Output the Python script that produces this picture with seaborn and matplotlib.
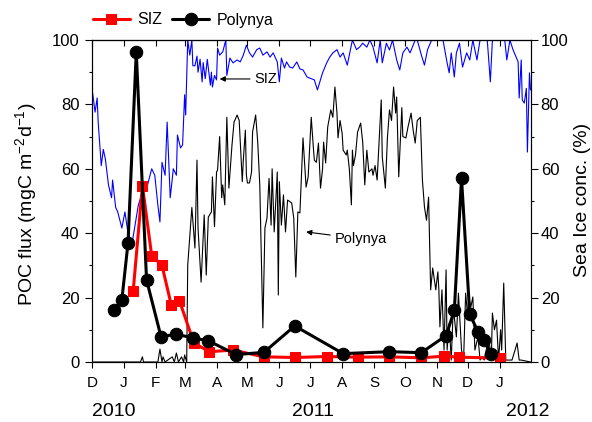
import matplotlib
matplotlib.use('Agg')
import numpy as np
import pandas as pd
import seaborn as sns
import matplotlib.pyplot as plt
import matplotlib.dates as mdates
from matplotlib.ticker import MultipleLocator, FuncFormatter

# ---------------- data (days since 2010-12-01) ----------------
siz_flux_day = [40, 49, 58, 68, 77, 85, 99, 114, 137, 167, 197, 228, 258, 289, 320, 342, 357, 396]
siz_flux = [22.0, 54.7, 33, 30, 17.7, 19, 5.9, 3.2, 3.7, 1.6, 1.4, 1.7, 1.5, 1.6, 1.3, 1.8, 1.5, 1.2]

poly_flux_day = [21, 29, 35, 43, 53, 67, 82, 98, 113, 140, 167, 197, 244, 289, 320, 344, 352, 359,
                 367, 375, 381, 388]
poly_flux = [16, 19.3, 37, 96.3, 25.5, 7.9, 8.6, 7.5, 6.6, 2.3, 3.0, 11.2, 2.6, 3.2, 2.9, 8.2, 16, 57,
             14.8, 9.4, 6.8, 2.4]

siz_ice_day = [0, 3, 5, 6, 9, 11, 13, 16, 19, 20,
               23, 25, 29, 32, 35, 39, 45, 49, 51, 54,
               58, 61, 64, 66, 68, 71, 73, 76, 79, 82,
               83, 86, 88, 90, 91, 93, 95, 97, 98, 100,
               102, 103, 105, 107, 108, 110, 112, 115, 116, 117,
               119, 121, 122, 124, 127, 130, 131, 134, 137, 141,
               144, 147, 150, 153, 156, 160, 163, 166, 170, 173,
               176, 180, 182, 184, 187, 189, 192, 195, 199, 202,
               205, 209, 216, 219, 224, 228, 231, 234, 238, 241,
               244, 248, 250, 253, 257, 260, 263, 267, 270, 273,
               277, 280, 282, 286, 289, 292, 296, 299, 302, 306,
               309, 314, 316, 320, 323, 326, 330, 335, 341, 345,
               347, 349, 352, 354, 357, 360, 364, 367, 370, 374,
               377, 381, 384, 387, 389, 396, 401, 403, 406, 409,
               414, 415, 417, 418, 420, 422, 423, 425, 426]
siz_ice = [85, 77.6, 82, 74.5, 61, 66, 63, 55, 51, 56.5,
           48, 46.6, 41.6, 46.6, 40, 37, 48.7, 52.8, 54, 55,
           60, 58, 48.7, 43.5, 62, 58, 74.5, 51, 60, 58,
           70.5, 66.5, 67.4, 83, 76.7, 100, 95.3, 100, 92, 92,
           95, 90, 94, 87, 93, 88, 94, 86, 90, 85.4,
           89, 87.6, 97.5, 95.3, 96.3, 100, 89, 94.4, 92.9, 93.8,
           93.2, 95.3, 98.4, 96, 94.7, 97, 97.5, 95.3, 96.3, 94.7,
           96, 93.2, 87, 94.4, 91.3, 93.2, 91.6, 91.3, 93.2, 91,
           90.7, 88.5, 87.6, 84.5, 89.8, 92.9, 94.7, 96, 97, 94.7,
           96, 92.2, 95.3, 100, 97, 97.8, 99, 97.8, 100, 97.8,
           92.9, 100, 92.9, 99, 96.9, 100, 93.8, 90.7, 96, 97.8,
           96, 100, 100, 95.3, 92.2, 97, 100, 100, 100, 92.9,
           89.8, 96, 88.5, 96, 99, 91.6, 96, 93.8, 100, 93.8,
           100, 100, 100, 87, 100, 100, 100, 93.8, 100, 97,
           93.2, 82, 93.8, 81.4, 80.4, 85, 65.2, 89.8, 84.5]

poly_ice_day = [0, 47, 49, 50, 64, 66, 68, 69, 71, 78,
                80, 82, 84, 87, 89, 90, 92, 93, 97, 100,
                102, 103, 106, 109, 111, 113, 116, 117, 119, 121,
                122, 124, 126, 127, 129, 131, 133, 136, 138, 141,
                143, 146, 147, 149, 150, 151, 153, 155, 156, 159,
                161, 163, 166, 168, 170, 172, 174, 175, 177, 180,
                181, 182, 184, 186, 188, 190, 194, 196, 198, 200,
                202, 205, 208, 210, 213, 215, 216, 218, 220, 222,
                224, 225, 227, 229, 232, 234, 236, 238, 239, 241,
                243, 244, 247, 248, 250, 252, 253, 254, 256, 258,
                261, 263, 265, 267, 269, 272, 273, 275, 277, 280,
                281, 282, 285, 287, 289, 291, 293, 295, 296, 298,
                301, 302, 305, 307, 310, 312, 314, 316, 319, 321,
                323, 325, 327, 329, 331, 334, 336, 337, 338, 340,
                342, 344, 345, 347, 349, 351, 354, 356, 359, 361,
                363, 365, 366, 368, 370, 372, 375, 377, 379, 381,
                383, 385, 388, 389, 391, 393, 395, 397, 398, 400,
                402, 404, 408, 411, 413, 415, 417, 426]
poly_ice = [0, 0, 1.6, 0, 0, 4, 0, 1.6, 0, 1.6,
            0, 2.8, 0, 1.6, 0, 2.2, 0, 30, 48, 35.4,
            62.7, 41.6, 24.8, 45.7, 27, 45, 46.6, 57.5, 42, 59,
            59.6, 70, 51, 55, 48.8, 76, 54, 67.4, 74.5, 76.7,
            75, 56, 62.7, 72, 58, 55.6, 55.6, 59, 71.4, 76.7,
            68.3, 55, 10.6, 41.6, 44.7, 57, 42.5, 60, 40.4, 59,
            20.8, 56, 42.5, 51.9, 40.4, 50.3, 49.4, 44.7, 26.4, 46.6,
            46.3, 69.6, 54.3, 57.5, 76, 66.8, 62.7, 62, 68, 54,
            60, 68.3, 61.8, 73, 78.3, 76, 85.4, 77.3, 69.6, 75,
            71, 65.8, 64.3, 65.8, 60, 48.8, 65.8, 61, 64.3, 71.4,
            74.2, 68.3, 55, 65.8, 59, 60, 58, 61, 56.5, 75,
            81.4, 63.7, 54, 69.6, 78.3, 75, 85.4, 77.3, 82.3, 57.5,
            79, 70, 69.6, 73, 77.3, 72, 68, 75, 76, 56.5,
            48.1, 44, 51.2, 22.4, 29.2, 22.4, 28, 22.4, 10.9, 22.4,
            3.7, 28.6, 3.7, 12, 0.6, 17, 7.8, 21.4, 3.7, 0.6,
            21.4, 14, 20.2, 17, 20.2, 3.7, 7.8, 0.6, 1.6, 0.6,
            3.7, 7.8, 1.6, 15.2, 10, 13, 0.6, 10, 3.7, 24.5,
            0.6, 0.6, 0.6, 3.7, 5.9, 0.6, 0.6, 0]

month_letters = ['J', 'F', 'M', 'A', 'M', 'J', 'J', 'A', 'S', 'O', 'N', 'D']
year_labels = ['2010', '2011', '2012']

# ---------------- style ----------------
sns.set_style('ticks', rc={'axes.edgecolor': 'black', 'xtick.color': 'black',
                           'ytick.color': 'black', 'text.color': 'black',
                           'axes.labelcolor': 'black'})
plt.rcParams['font.family'] = ['Liberation Sans', 'DejaVu Sans']
plt.rcParams['mathtext.default'] = 'regular'
plt.rcParams['axes.linewidth'] = 0.8

start = pd.Timestamp('2010-12-01')


def to_dates(days):
    return start + pd.to_timedelta(np.asarray(days, dtype=float), unit='D')


def dnum(day):
    return mdates.date2num(start + pd.Timedelta(days=day))


fig = plt.figure(figsize=(5.92, 4.22), dpi=100)
ax = fig.add_axes([92 / 592, 60 / 422, 439 / 592, 322 / 422])
ax2 = ax.twinx()

sns.lineplot(x=to_dates(siz_ice_day), y=siz_ice, ax=ax2, color='#0000ff', lw=0.8,
             estimator=None, sort=False)
sns.lineplot(x=to_dates(poly_ice_day), y=poly_ice, ax=ax2, color='black', lw=0.8,
             estimator=None, sort=False)

sns.lineplot(x=to_dates(siz_flux_day), y=siz_flux, ax=ax, color='#ff0000', lw=2.2,
             marker='s', markersize=7.5, markeredgecolor='#ff0000', estimator=None,
             sort=False, label='SIZ')
sns.lineplot(x=to_dates(poly_flux_day), y=poly_flux, ax=ax, color='black', lw=2.2,
             marker='o', markersize=9, markeredgecolor='black', estimator=None,
             sort=False, label='Polynya')

ax.set_zorder(ax2.get_zorder() + 1)
ax.patch.set_visible(False)

# axes limits and ticks
ax.set_xlim(start, pd.Timestamp('2012-01-31 12:00'))
ax.xaxis.set_major_locator(mdates.MonthLocator())
ax.xaxis.set_major_formatter(FuncFormatter(
    lambda v, p: month_letters[mdates.num2date(v).month - 1]))
for a in (ax, ax2):
    a.set_ylim(0, 100)
    a.yaxis.set_major_locator(MultipleLocator(20))
    a.yaxis.set_minor_locator(MultipleLocator(10))

ax.tick_params(axis='x', which='major', direction='out', length=4, width=0.8,
               labelsize=11, pad=6, top=False)
ax.tick_params(axis='y', which='major', direction='out', length=5, width=0.8,
               labelsize=12, pad=4, right=False)
ax.tick_params(axis='y', which='minor', direction='out', length=2.5, width=0.8, right=False)
ax2.tick_params(axis='y', which='major', direction='out', length=5, width=0.8,
                labelsize=12, pad=2, left=False)
ax2.tick_params(axis='y', which='minor', direction='out', length=2.5, width=0.8, left=False)

sec = ax.secondary_xaxis('top')
sec.xaxis.set_major_locator(mdates.MonthLocator())
sec.tick_params(axis='x', direction='in', length=4, width=0.8, labeltop=False)

for a in (ax, ax2):
    for s in a.spines.values():
        s.set_color('black')
        s.set_linewidth(0.8)

ax.set_xlabel('')
ax2.set_xlabel('')
ax.set_ylabel(r'POC flux (mgC m$^{-2}$d$^{-1}$)', fontsize=14)
ax.yaxis.set_label_coords(-0.12, 0.49)
ax2.set_ylabel('Sea Ice conc. (%)', fontsize=14)
ax2.yaxis.set_label_coords(1.097, 0.503)

# year labels
fig.text(114 / 592, 1 - 412 / 422, year_labels[0], ha='center', va='center', fontsize=14)
fig.text(313 / 592, 1 - 412 / 422, year_labels[1], ha='center', va='center', fontsize=14)
fig.text(528 / 592, 1 - 412 / 422, year_labels[2], ha='center', va='center', fontsize=14)

# annotations
arrow = dict(arrowstyle='-|>', color='black', lw=0.8, mutation_scale=8, shrinkA=1, shrinkB=0)
ax2.annotate('SIZ', xy=(dnum(124), 87.9), xytext=(dnum(158), 87.9), fontsize=10.5,
             ha='left', va='center', arrowprops=arrow)
ax2.annotate('Polynya', xy=(dnum(208), 40.4), xytext=(dnum(236), 38.2), fontsize=10.5,
             ha='left', va='center', arrowprops=arrow)

# legend
handles, labels = ax.get_legend_handles_labels()
if ax.get_legend() is not None:
    ax.get_legend().remove()
fig.legend(handles, labels, loc='center left', bbox_to_anchor=(93 / 592, 1 - 20 / 422),
           ncol=2, frameon=False, fontsize=11.5, handlelength=2.3, handletextpad=0.5,
           columnspacing=0.6, borderpad=0, borderaxespad=0)

fig.savefig('out.png', dpi=100)
